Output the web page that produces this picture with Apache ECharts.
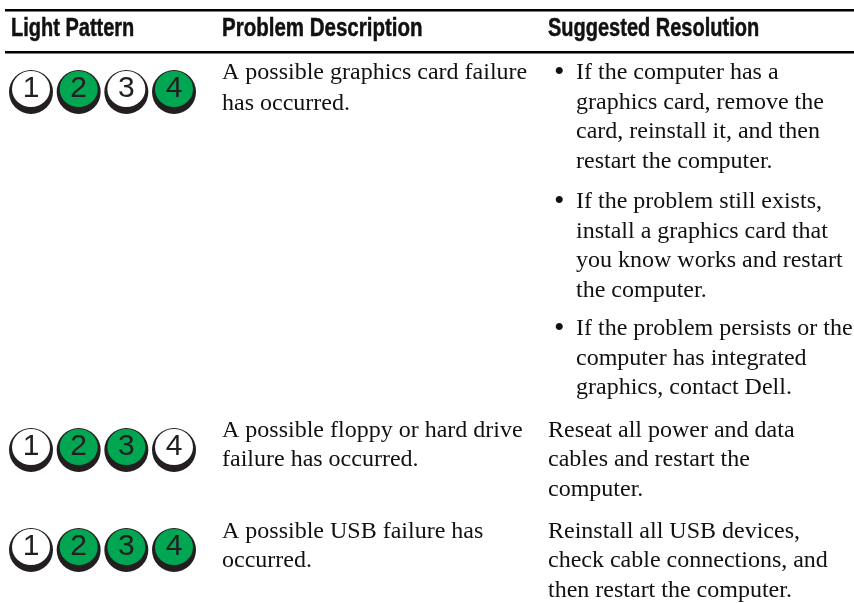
<!DOCTYPE html>
<html><head><meta charset="utf-8">
<style>html,body{margin:0;padding:0;background:#fff}#c{width:854px;height:603px}</style>
<script src="https://cdn.jsdelivr.net/npm/echarts@6/dist/echarts.min.js"></script></head>
<body><div id="c"></div>
<script>
const headers = ["Light Pattern", "Problem Description", "Suggested Resolution"];
const lightNumbers = [1, 2, 3, 4];
const row1Lights = [0, 1, 0, 1];
const row2Lights = [0, 1, 1, 0];
const row3Lights = [0, 1, 1, 1];
const problemLines = [
  "A possible graphics card failure", "has occurred.",
  "A possible floppy or hard drive", "failure has occurred.",
  "A possible USB failure has", "occurred."
];
const resolution1 = ["If the computer has a", "graphics card, remove the", "card, reinstall it, and then", "restart the computer."];
const resolution2 = ["If the problem still exists,", "install a graphics card that", "you know works and restart", "the computer."];
const resolution3 = ["If the problem persists or the", "computer has integrated", "graphics, contact Dell."];
const resolution4 = ["Reseat all power and data", "cables and restart the", "computer."];
const resolution5 = ["Reinstall all USB devices,", "check cable connections, and", "then restart the computer."];

// layout only
const rowCentres = [92, 450, 550];
const ink = "#231f20", green = "#00a651";
const bodyFont = "24px 'Liberation Serif'";
const headFont = "bold 25px 'Liberation Sans'";
const bulletFont = "30px 'Liberation Serif'";
const colX = [11, 222, 548];
const txt = (x, y, s, font, sx, stroke) => ({type:"text", x, y, scaleX:sx||1, style:{text:s, x:0, y:0, font, fill:"#111", stroke:stroke?"#111":null, lineWidth:stroke||0, textVerticalAlign:"middle"}});
const block = (x, ys, lines) => lines.map((s,i)=>txt(x, ys[i]+1, s, bodyFont));
const probY = [72,103,430,459,531,560];

const graphic = [
  {type:"rect", shape:{x:5,y:9,width:849,height:2.5}, style:{fill:"#000"}},
  {type:"rect", shape:{x:5,y:51,width:849,height:2.5}, style:{fill:"#000"}},
  ...headers.map((h,i)=>txt(colX[i], 29, h, headFont, [0.80,0.82,0.80][i], 0.5)),
  ...block(222, probY, problemLines),
  ...block(576, [72,102,131,161], resolution1),
  ...block(576, [201,231,260,290], resolution2),
  ...block(576, [328,358,387], resolution3),
  ...block(548, [430,459,489], resolution4),
  ...block(548, [531,560,590], resolution5),
  txt(554, 73, "•", bulletFont), txt(554, 202, "•", bulletFont), txt(554, 329, "•", bulletFont)
];

const pts = [row1Lights,row2Lights,row3Lights].flatMap((r,ri)=>r.map((on,i)=>[lightNumbers[i], rowCentres[ri], on]));

const chart = echarts.init(document.getElementById("c"), null, {renderer:"canvas"});
chart.setOption({
  animation:false,
  grid:{left:31, top:0, width:143, height:603},
  xAxis:{type:"value", min:1, max:4, interval:1, show:false},
  yAxis:{type:"value", min:0, max:603, inverse:true, show:false},
  graphic,
  series:[
    {type:"scatter", data:pts, symbolSize:44, itemStyle:{color:"#231f20", opacity:1}, silent:true},
    {type:"scatter", data:pts, symbolSize:[38,36], symbolOffset:[0,-3], silent:true,
      itemStyle:{opacity:1, color:p=>p.value[2]?green:"#fff"},
      label:{show:true, position:"inside", formatter:p=>String(p.value[0]), color:ink, fontFamily:"Liberation Sans", fontSize:30}}
  ]
});
</script></body></html>
